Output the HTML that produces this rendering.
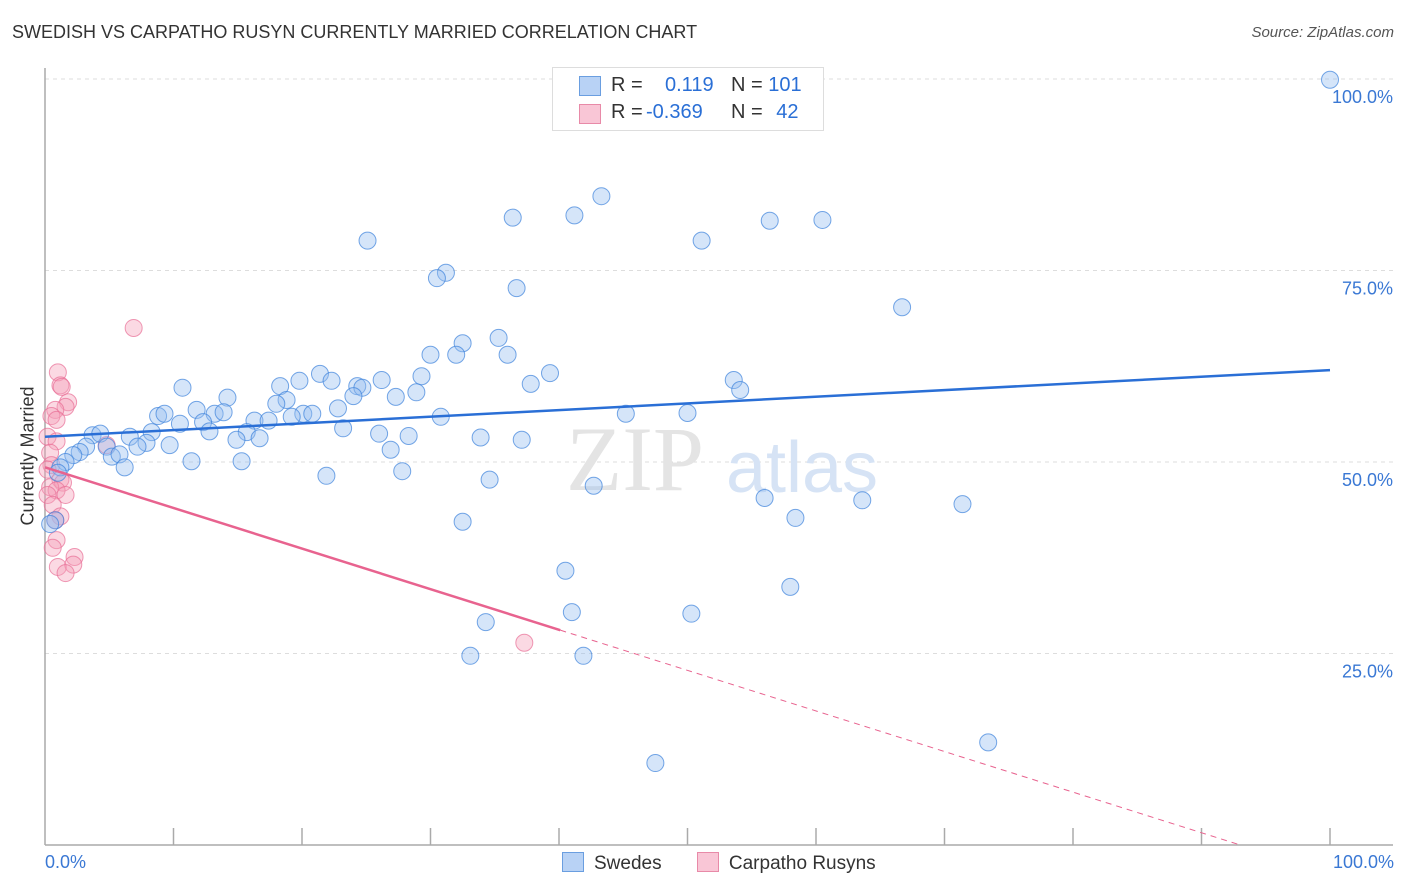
<!DOCTYPE html>
<html><head><meta charset="utf-8"><style>
body{margin:0;background:#fff;font-family:"Liberation Sans",sans-serif;}
#wrap{position:relative;width:1406px;height:892px;overflow:hidden;}
</style></head><body><div id="wrap">
<svg id="chart" width="1406" height="892"></svg>
</div>
<script>
const swedesX=[100,46.8,43.3,41.2,36.4,56.4,60.5,25.1,51.1,31.2,30.5,36.7,66.7,35.3,32.5,30.0,32.0,36.0,21.4,39.3,29.3,19.8,22.3,26.2,53.6,10.7,18.3,24.3,24.7,37.8,54.1,28.9,14.2,18.8,27.3,24.0,18.0,11.8,22.8,8.8,9.3,13.2,13.9,20.1,20.8,19.2,30.8,45.2,50.0,10.5,12.3,16.3,17.4,23.2,8.3,12.8,15.7,3.7,4.3,6.6,26.0,28.3,14.9,16.7,33.9,37.1,7.9,9.7,3.2,4.8,7.2,26.9,2.7,2.2,5.2,5.8,11.4,15.3,1.6,6.2,1.2,27.8,21.9,34.6,42.7,1.0,56.0,63.6,71.4,58.4,32.5,0.8,0.4,40.5,58.0,41.0,50.3,34.3,33.1,41.9,73.4,47.5];
const swedesY=[99.9,99.9,84.7,82.2,81.9,81.5,81.6,78.9,78.9,74.7,74.0,72.7,70.2,66.2,65.5,64.0,64.0,64.0,61.5,61.6,61.2,60.6,60.6,60.7,60.7,59.7,59.9,59.9,59.7,60.2,59.4,59.1,58.4,58.1,58.5,58.6,57.6,56.8,57.0,56.0,56.3,56.3,56.5,56.3,56.3,55.9,55.9,56.3,56.4,55.0,55.2,55.4,55.4,54.4,53.9,54.0,53.9,53.5,53.7,53.3,53.7,53.4,52.9,53.1,53.2,52.9,52.5,52.2,52.0,52.0,52.0,51.6,51.3,50.9,50.7,51.0,50.1,50.1,50.0,49.3,49.3,48.8,48.2,47.7,46.9,48.6,45.3,45.0,44.5,42.7,42.2,42.4,41.9,35.8,33.7,30.4,30.2,29.1,24.7,24.7,13.4,10.7];
const rusynX=[6.9,1.0,1.2,1.3,1.8,1.6,0.8,0.5,0.9,0.2,0.9,4.8,0.4,0.5,0.2,1.2,1.4,0.4,0.9,1.6,0.2,0.6,1.2,0.8,0.9,0.6,2.3,1.0,2.2,1.6,37.3];
const rusynY=[67.5,61.7,60.0,59.8,57.8,57.2,56.8,56.0,55.5,53.3,52.7,52.2,51.2,49.6,49.0,47.7,47.3,46.7,46.3,45.7,45.7,44.4,42.9,42.4,39.8,38.8,37.6,36.3,36.6,35.5,26.4];
const swedesTrend=[53.3,62.0];
const rusynTrend=[49.3,-0.530];
const yTicks=[25,50,75,100];
const yTickLabels=["25.0%","50.0%","75.0%","100.0%"];

const NS="http://www.w3.org/2000/svg";
const svg=document.getElementById('chart');
const X0=45,X1=1330,Y0=845,YPER=7.66;
const xs=v=>X0+(X1-X0)*v/100;
const ys=v=>Y0-v*YPER;
function el(tag,attrs,parent){const e=document.createElementNS(NS,tag);for(const k in attrs)e.setAttribute(k,attrs[k]);(parent||svg).appendChild(e);return e;}

yTicks.forEach((t,i)=>{
  const g=el('line',{x1:X0,x2:1393,y1:ys(t),y2:ys(t),stroke:'#ddd','stroke-dasharray':'4,4'});
  
  
  const tx=el('text',{x:1393,y:ys(t)+24,'text-anchor':'end','font-size':'18',fill:'#3a78d4'});
  tx.textContent=yTickLabels[i];
  
  
});
let a=el('line',{x1:X0,x2:X0,y1:68,y2:Y0,stroke:'#aaa','stroke-width':1.5});


a=el('line',{x1:X0,x2:1393,y1:Y0,y2:Y0,stroke:'#aaa','stroke-width':1.5});


for(let i=1;i<=10;i++){
  const t=el('line',{x1:xs(i*10),x2:xs(i*10),y1:828,y2:Y0,stroke:'#aaa','stroke-width':1.5});
  
  
}
let w=el('text',{x:635,y:490,'text-anchor':'middle','font-size':'92','font-family':'Liberation Serif,serif',fill:'#e4e4e4'});
w.textContent='ZIP';


w=el('text',{x:802,y:492,'text-anchor':'middle','font-size':'72',fill:'#d6e3f5'});
w.textContent='atlas';



rusynX.forEach((x,i)=>{
  const c=el('circle',{cx:xs(x),cy:ys(rusynY[i]),r:8.5,fill:'rgba(244,160,185,0.4)',stroke:'rgba(232,110,150,0.7)','stroke-width':1});
  
  
});
swedesX.forEach((x,i)=>{
  const c=el('circle',{cx:xs(x),cy:ys(swedesY[i]),r:8.5,fill:'rgba(150,190,240,0.4)',stroke:'rgba(60,130,220,0.7)','stroke-width':1});
  
  
});
let l=el('line',{x1:xs(0),y1:ys(swedesTrend[0]),x2:xs(100),y2:ys(swedesTrend[1]),stroke:'#2a6fd6','stroke-width':2.5});


const rf=x=>rusynTrend[0]+rusynTrend[1]*x;
const xEnd=-rusynTrend[0]/rusynTrend[1];
l=el('line',{x1:xs(0),y1:ys(rf(0)),x2:xs(40.1),y2:ys(rf(40.1)),stroke:'#e8638f','stroke-width':2.5});


l=el('line',{x1:xs(40.1),y1:ys(rf(40.1)),x2:xs(xEnd),y2:ys(0),stroke:'#e8638f','stroke-width':1,'stroke-dasharray':'6,5'});


</script>
<div style="position:absolute;left:12px;top:22px;font-size:18px;color:#333;">SWEDISH VS CARPATHO RUSYN CURRENTLY MARRIED CORRELATION CHART</div>
<div style="position:absolute;right:12px;top:24px;font-size:15px;color:#555;font-style:italic;">Source: ZipAtlas.com</div>
<div style="position:absolute;left:28px;top:456px;transform:translate(-50%,-50%) rotate(-90deg);font-size:18px;color:#333;white-space:nowrap;">Currently Married</div>
<div style="position:absolute;left:45px;top:852px;font-size:18px;color:#3a78d4;">0.0%</div>
<div style="position:absolute;right:12px;top:852px;font-size:18px;color:#3a78d4;">100.0%</div>
<div style="position:absolute;left:552px;top:67px;width:270px;height:62px;border:1px solid #ddd;background:#fff;font-size:20px;color:#333;">
 <div style="position:absolute;left:26px;top:8px;width:20px;height:18px;background:#b8d2f5;border:1px solid #6a9ee0;"></div>
 <div style="position:absolute;left:58px;top:6px;">R =</div>
 <div style="position:absolute;left:112px;top:6px;color:#2a6fd6;">0.119</div>
 <div style="position:absolute;left:178px;top:6px;">N = <span style="color:#2a6fd6">101</span></div>
 <div style="position:absolute;left:26px;top:36px;width:20px;height:18px;background:#f9c6d6;border:1px solid #e88aa8;"></div>
 <div style="position:absolute;left:58px;top:33px;">R =</div>
 <div style="position:absolute;left:93px;top:33px;color:#2a6fd6;">-0.369</div>
 <div style="position:absolute;left:178px;top:33px;">N = <span style="color:#2a6fd6;margin-left:8px">42</span></div>
</div>
<div style="position:absolute;left:562px;top:852px;font-size:19px;color:#333;">
 <span><span style="display:inline-block;width:20px;height:18px;background:#b8d2f5;border:1px solid #6a9ee0;vertical-align:-3px;margin-right:10px"></span>Swedes</span>
 <span style="margin-left:30px"><span style="display:inline-block;width:20px;height:18px;background:#f9c6d6;border:1px solid #e88aa8;vertical-align:-3px;margin-right:10px"></span>Carpatho Rusyns</span>
</div>
</body></html>
